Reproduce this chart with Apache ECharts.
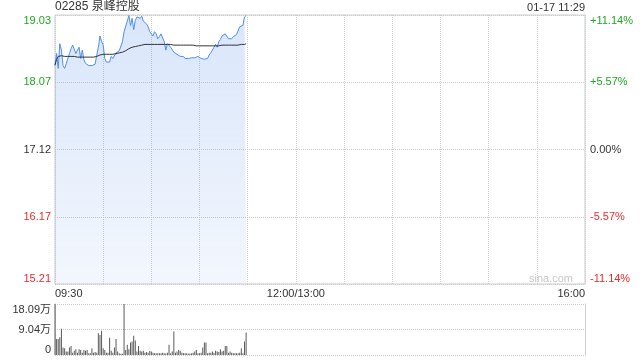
<!DOCTYPE html>
<html>
<head>
<meta charset="utf-8">
<script src="https://cdn.jsdelivr.net/npm/echarts@6/dist/echarts.min.js"></script>
<style>
html,body{margin:0;padding:0;background:#fff;}
#c{width:640px;height:360px;}
</style>
</head>
<body>
<div id="c"></div>
<script>
const titleText = '02285 泉峰控股';
const dateText = '01-17 11:29';
const prevClose = 17.12;
const timeLabels = ['09:30', '12:00/13:00', '16:00'];
const timeLabelMinutes = [0, 150, 330];
const priceTicks = ['15.21', '16.17', '17.12', '18.07', '19.03'];
const pctTicks = ['-11.14%', '-5.57%', '0.00%', '+5.57%', '+11.14%'];
const volTicks = ['0', '9.04万', '18.09万'];
const pctStep = 5.57;
const volMax = 180900;

const prices = [
 18.31, 18.48, 18.27, 18.62, 18.53, 18.31, 18.27, 18.29, 18.41, 18.48,
 18.55, 18.60, 18.62, 18.48, 18.53, 18.57, 18.41, 18.53, 18.39, 18.34,
 18.35, 18.31, 18.32, 18.31, 18.31, 18.33, 18.46, 18.57, 18.73, 18.65,
 18.60, 18.41, 18.36, 18.37, 18.36, 18.44, 18.41, 18.42, 18.49, 18.50,
 18.52, 18.53, 18.65, 18.79, 18.81, 18.94, 19.02, 18.88, 18.98, 18.82,
 18.95, 19.00, 19.02, 18.98, 19.01, 18.94, 18.93, 18.90, 18.86, 18.79,
 18.76, 18.73, 18.79, 18.76, 18.69, 18.72, 18.76, 18.74, 18.65, 18.53,
 18.62, 18.60, 18.57, 18.58, 18.50, 18.48, 18.47, 18.46, 18.44, 18.43,
 18.44, 18.41, 18.42, 18.41, 18.43, 18.42, 18.40, 18.42, 18.43, 18.44,
 18.42, 18.41, 18.43, 18.40, 18.38, 18.41, 18.46, 18.49, 18.53, 18.57,
 18.61, 18.57, 18.65, 18.68, 18.73, 18.71, 18.76, 18.74, 18.69, 18.71,
 18.69, 18.72, 18.73, 18.75, 18.76, 18.86, 18.87, 18.88, 19.00, 19.02
];

const avgPrices = [
 18.32, 18.40, 18.44, 18.46, 18.45, 18.45, 18.44, 18.44, 18.44, 18.44,
 18.44, 18.44, 18.44, 18.44, 18.43, 18.43, 18.43, 18.43, 18.43, 18.43,
 18.43, 18.43, 18.43, 18.43, 18.43, 18.43, 18.44, 18.45, 18.46, 18.47,
 18.47, 18.47, 18.47, 18.47, 18.47, 18.47, 18.47, 18.48, 18.48, 18.48,
 18.49, 18.49, 18.50, 18.51, 18.52, 18.54, 18.55, 18.56, 18.57, 18.58,
 18.58, 18.59, 18.59, 18.60, 18.60, 18.61, 18.61, 18.61, 18.61, 18.61,
 18.61, 18.61, 18.61, 18.61, 18.61, 18.61, 18.61, 18.61, 18.61, 18.61,
 18.61, 18.61, 18.61, 18.61, 18.60, 18.60, 18.60, 18.60, 18.60, 18.60,
 18.60, 18.60, 18.60, 18.60, 18.60, 18.60, 18.60, 18.60, 18.59, 18.59,
 18.59, 18.59, 18.59, 18.59, 18.59, 18.59, 18.59, 18.59, 18.59, 18.59,
 18.59, 18.59, 18.59, 18.59, 18.60, 18.60, 18.60, 18.60, 18.60, 18.60,
 18.60, 18.60, 18.60, 18.60, 18.60, 18.61, 18.61, 18.61, 18.61, 18.62
];

const volumes = [
 180900, 57000, 57000, 63000, 93000, 27000, 24000, 12000, 12000, 27000,
 32000, 8000, 15000, 20000, 8000, 20000, 18000, 8000, 18000, 15000,
 18000, 6000, 6000, 24000, 8000, 11000, 8000, 77000, 71000, 86000,
 24000, 18000, 8000, 8000, 61000, 15000, 8000, 27000, 57000, 12000,
 6000, 4000, 4000, 180900, 18000, 36000, 20000, 44000, 48000, 68000,
 51000, 12000, 32000, 15000, 12000, 15000, 8000, 11000, 8000, 14000,
 12000, 8000, 6000, 6000, 6000, 6000, 6000, 8000, 6000, 5000,
 8000, 36000, 6000, 12000, 83000, 8000, 12000, 18000, 15000, 8000,
 6000, 6000, 6000, 4000, 5000, 5000, 8000, 12000, 18000, 6000,
 6000, 8000, 27000, 44000, 44000, 6000, 8000, 8000, 12000, 8000,
 15000, 12000, 11000, 20000, 12000, 15000, 32000, 32000, 8000, 12000,
 8000, 6000, 6000, 6000, 6000, 8000, 24000, 6000, 48000, 80000
];

const FONT = 'Arial, "Liberation Sans", "Noto Sans CJK SC", sans-serif';
const GREEN = '#1fa81f';
const RED = '#ea2b2b';
const DARK = '#333333';
const GRIDC = '#cccccc';

function toPct(p) { return (p / prevClose - 1) * 100; }
function tickIdx(v) { return Math.round(v / pctStep) + 2; }
function tickColor(v) {
  const k = tickIdx(v);
  return k > 2 ? GREEN : (k < 2 ? RED : DARK);
}

const chart = echarts.init(document.getElementById('c'), null, {renderer: 'canvas'});
chart.setOption({
  animation: false,
  textStyle: {fontFamily: FONT},
  title: [
    {text: titleText, left: 55, top: 1, padding: 0,
     textStyle: {fontSize: 12, fontWeight: 'normal', color: DARK, fontFamily: FONT}},
    {text: dateText, right: 55, top: 2, padding: 0,
     textStyle: {fontSize: 11, fontWeight: 'normal', color: DARK, fontFamily: FONT}},
    {text: 'sina.com', right: 67, top: 273, padding: 0,
     textStyle: {fontSize: 11, fontWeight: 'normal', color: '#c8c8c8', fontFamily: FONT}}
  ],
  grid: [
    {left: 55, right: 55, top: 15, height: 269, show: true, borderColor: GRIDC, borderWidth: 1},
    {left: 55, right: 55, top: 304, height: 51}
  ],
  xAxis: [
    {type: 'value', gridIndex: 0, min: 0, max: 330, interval: 30,
     axisLine: {show: false}, axisTick: {show: false},
     splitLine: {show: true, lineStyle: {type: 'dotted', color: GRIDC}},
     axisLabel: {
       fontSize: 11, color: DARK, margin: 4, fontFamily: FONT,
       showMinLabel: true, showMaxLabel: true,
       alignMinLabel: 'left', alignMaxLabel: 'right',
       formatter: function (v) {
         const k = timeLabelMinutes.indexOf(Math.round(v));
         return k >= 0 ? timeLabels[k] : '';
       }
     }},
    {type: 'value', gridIndex: 1, min: 0, max: 330, interval: 30,
     axisLine: {show: false}, axisTick: {show: false},
     splitLine: {show: false}, axisLabel: {show: false}}
  ],
  yAxis: [
    {type: 'value', gridIndex: 0, position: 'left', min: -11.14, max: 11.14, interval: pctStep,
     axisLine: {show: false}, axisTick: {show: false},
     splitLine: {show: true, lineStyle: {type: 'dotted', color: GRIDC}},
     axisLabel: {
       fontSize: 11, margin: 4, fontFamily: FONT,
       verticalAlignMinLabel: 'bottom', verticalAlignMaxLabel: 'top',
       color: function (v) { return tickColor(v); },
       formatter: function (v) { return priceTicks[tickIdx(v)]; }
     }},
    {type: 'value', gridIndex: 0, position: 'right', min: -11.14, max: 11.14, interval: pctStep,
     axisLine: {show: false}, axisTick: {show: false}, splitLine: {show: false},
     axisLabel: {
       fontSize: 11, margin: 5, fontFamily: FONT,
       verticalAlignMinLabel: 'bottom', verticalAlignMaxLabel: 'top',
       color: function (v) { return tickColor(v); },
       formatter: function (v) { return pctTicks[tickIdx(v)]; }
     }},
    {type: 'value', gridIndex: 1, position: 'left', min: 0, max: volMax, interval: volMax / 2,
     axisLine: {show: true, lineStyle: {color: GRIDC}}, axisTick: {show: false},
     splitLine: {show: true, lineStyle: {type: 'dotted', color: GRIDC}},
     axisLabel: {
       fontSize: 11, margin: 4, color: DARK, fontFamily: FONT,
       verticalAlignMinLabel: 'bottom', verticalAlignMaxLabel: 'top',
       formatter: function (v) { return volTicks[Math.round(v / (volMax / 2))]; }
     }},
    {type: 'value', gridIndex: 1, position: 'right', min: 0, max: volMax, interval: volMax / 2,
     axisLine: {show: true, lineStyle: {color: GRIDC}}, axisTick: {show: false},
     splitLine: {show: false}, axisLabel: {show: false}}
  ],
  series: [
    {type: 'line', xAxisIndex: 0, yAxisIndex: 0,
     data: prices.map(function (p, i) { return [i, toPct(p)]; }),
     showSymbol: false, symbol: 'none',
     lineStyle: {color: '#4f8ef0', width: 1},
     areaStyle: {origin: 'start', color: new echarts.graphic.LinearGradient(0, 0, 0, 1, [
       {offset: 0, color: 'rgba(90,145,235,0.33)'},
       {offset: 1, color: 'rgba(90,145,235,0.10)'}
     ])},
     z: 3},
    {type: 'line', xAxisIndex: 0, yAxisIndex: 0,
     data: avgPrices.map(function (p, i) { return [i, toPct(p)]; }),
     showSymbol: false, symbol: 'none',
     lineStyle: {color: '#333333', width: 1}, z: 4},
    {type: 'bar', xAxisIndex: 1, yAxisIndex: 2,
     data: volumes.map(function (v, i) { return [i, v]; }),
     barWidth: 1, itemStyle: {color: '#5a5a5a'}}
  ]
});
</script>
</body>
</html>
